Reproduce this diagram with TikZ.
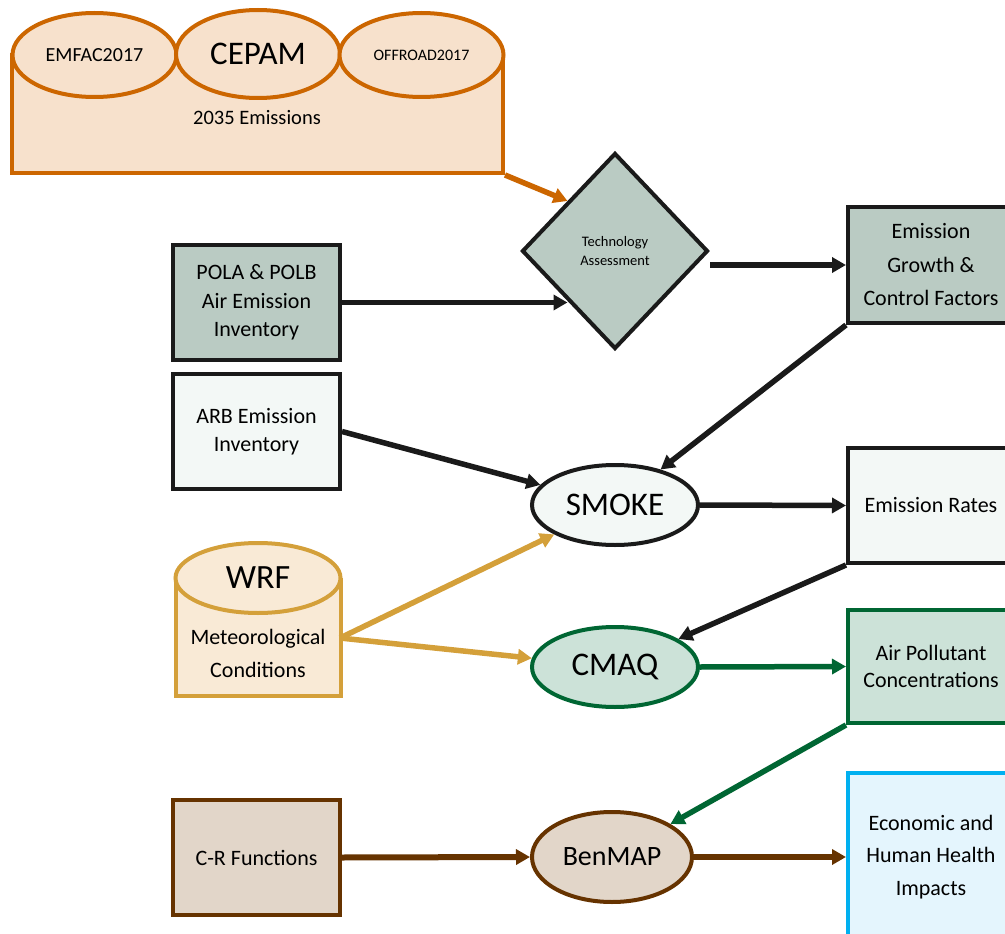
\documentclass[tikz,border=0pt]{standalone}
\usepackage{fontspec}
\setmainfont{Carlito}
\usepackage{tikz}
\usepackage{xcolor}
\usetikzlibrary{shapes.geometric,arrows.meta}
\definecolor{cepamline}{RGB}{204,102,0}
\definecolor{cepamfill}{RGB}{247,225,204}
\definecolor{darkline}{RGB}{26,26,26}
\definecolor{grayfill}{RGB}{186,203,195}
\definecolor{palefill}{RGB}{243,248,246}
\definecolor{wrfline}{RGB}{212,160,58}
\definecolor{wrffill}{RGB}{249,234,214}
\definecolor{greenline}{RGB}{0,102,51}
\definecolor{greenfill}{RGB}{204,226,216}
\definecolor{brownline}{RGB}{102,51,0}
\definecolor{brownfill}{RGB}{226,214,201}
\definecolor{blueline}{RGB}{0,176,240}
\definecolor{bluefill}{RGB}{228,245,253}
\tikzstyle{box} = [rectangle, draw=darkline, line width=4pt, minimum width=167pt, minimum height=115pt, inner sep=0pt, align=center, font=\fontsize{22}{28.5}\selectfont]
\tikzstyle{oval} = [ellipse, draw=darkline, line width=4pt, minimum width=166pt, minimum height=80pt, inner sep=0pt, font=\fontsize{33}{36}\selectfont]
\tikzstyle{model} = [ellipse, draw=cepamline, fill=cepamfill, line width=4pt, minimum width=164pt, minimum height=84pt, inner sep=0pt]
\tikzstyle{flow} = [->, line width=5.5pt, draw=darkline]

\begin{document}
\begin{tikzpicture}[>={Triangle[length=14pt,width=15pt]},x=1pt,y=-1pt]
  \useasboundingbox (0,0) rectangle (1005,934);
  \clip (0,0) rectangle (1005,934);

  % CEPAM block
  \node[rectangle, draw=cepamline, fill=cepamfill, line width=4pt, minimum width=491pt, minimum height=118pt] (cepam) at (257.5,114) {};
  \node[model, font=\fontsize{20}{24}\selectfont] (emfac) at (94.5,55) {EMFAC2017};
  \node[model, font=\fontsize{33}{36}\selectfont, minimum height=88pt] (cepamtop) at (258,54) {CEPAM};
  \node[model, font=\fontsize{16}{20}\selectfont] (offroad) at (421.5,55) {OFFROAD2017};
  \node[font=\fontsize{20.5}{24}\selectfont] (year) at (257,118) {2035 Emissions};

  % WRF cylinder
  \draw[draw=wrfline, fill=wrffill, line width=4pt] (175.5,578) -- (175.5,696) -- (340.5,696) -- (340.5,578);
  \node[ellipse, draw=wrfline, fill=wrffill, line width=4pt, minimum width=165pt, minimum height=70pt, inner sep=0pt, font=\fontsize{34}{36}\selectfont] (WRF) at (258,578) {WRF};
  \node[align=center, font=\fontsize{22}{33}\selectfont] (met) at (258,653) {Meteorological\\Conditions};
  \coordinate (wrfout) at (340,638);

  \node[diamond, draw=darkline, fill=grayfill, line width=4pt, minimum width=186pt, minimum height=196pt, inner sep=0pt, align=center, font=\fontsize{14.5}{19}\selectfont] (tech) at (615,251) {Technology\\Assessment};
  \node[box, fill=grayfill] (POLA) at (256.5,302.5) {POLA \& POLB\\Air Emission\\Inventory};
  \node[box, fill=palefill] (ARB) at (256.5,431.5) {ARB Emission\\Inventory};
  \node[box, draw=brownline, fill=brownfill] (CR) at (256.5,857.5) {C-R Functions};

  \node[oval, fill=palefill] (SMOKE) at (615,505) {SMOKE};
  \node[oval, draw=greenline, fill=greenfill] (CMAQ) at (615,667) {CMAQ};
  \node[oval, draw=brownline, fill=brownfill, minimum width=160pt, minimum height=90pt, font=\fontsize{28}{32}\selectfont] (BenMAP) at (612,857) {BenMAP};

  \node[box, fill=grayfill, minimum width=166pt, minimum height=116pt, font=\fontsize{22}{33.5}\selectfont] (EG) at (931,265) {Emission\\Growth \&\\Control Factors};
  \node[box, fill=palefill, minimum width=166pt] (ER) at (931,505.5) {Emission Rates};
  \node[box, draw=greenline, fill=greenfill, minimum width=166pt, minimum height=113pt, font=\fontsize{22}{27}\selectfont] (AP) at (931,666.5) {Air Pollutant\\Concentrations};
  \node[box, draw=blueline, fill=bluefill, minimum width=166pt, minimum height=168pt, font=\fontsize{22}{32.5}\selectfont] (ECO) at (931,857) {Economic and\\Human Health\\Impacts};

  % connectors
  \path (cepam.south east) edge[flow, draw=cepamline] node {} (tech.north west);
  \path (POLA.east) edge[flow] node {} (POLA.east -| tech.south west);
  \path (tech.east |- EG.west) edge[flow] node {} (EG.west);
  \path (EG.south west) edge[flow] node {} (SMOKE);
  \path (ARB.east) edge[flow] node {} (SMOKE);
  \path (wrfout) edge[flow, draw=wrfline] node {} (SMOKE);
  \path (wrfout) edge[flow, draw=wrfline] node {} (CMAQ);
  \path (SMOKE.east) edge[flow] node {} (ER.west);
  \path (ER.south west) edge[flow] node {} (CMAQ);
  \path (CMAQ.east) edge[flow, draw=greenline] node {} (AP.west);
  \path (AP.south west) edge[flow, draw=greenline] node {} (BenMAP);
  \path (CR.east) edge[flow, draw=brownline, line width=6pt] node {} (BenMAP.west);
  \path (BenMAP.east) edge[flow, draw=brownline, line width=6pt] node {} (ECO.west);
\end{tikzpicture}
\end{document}
